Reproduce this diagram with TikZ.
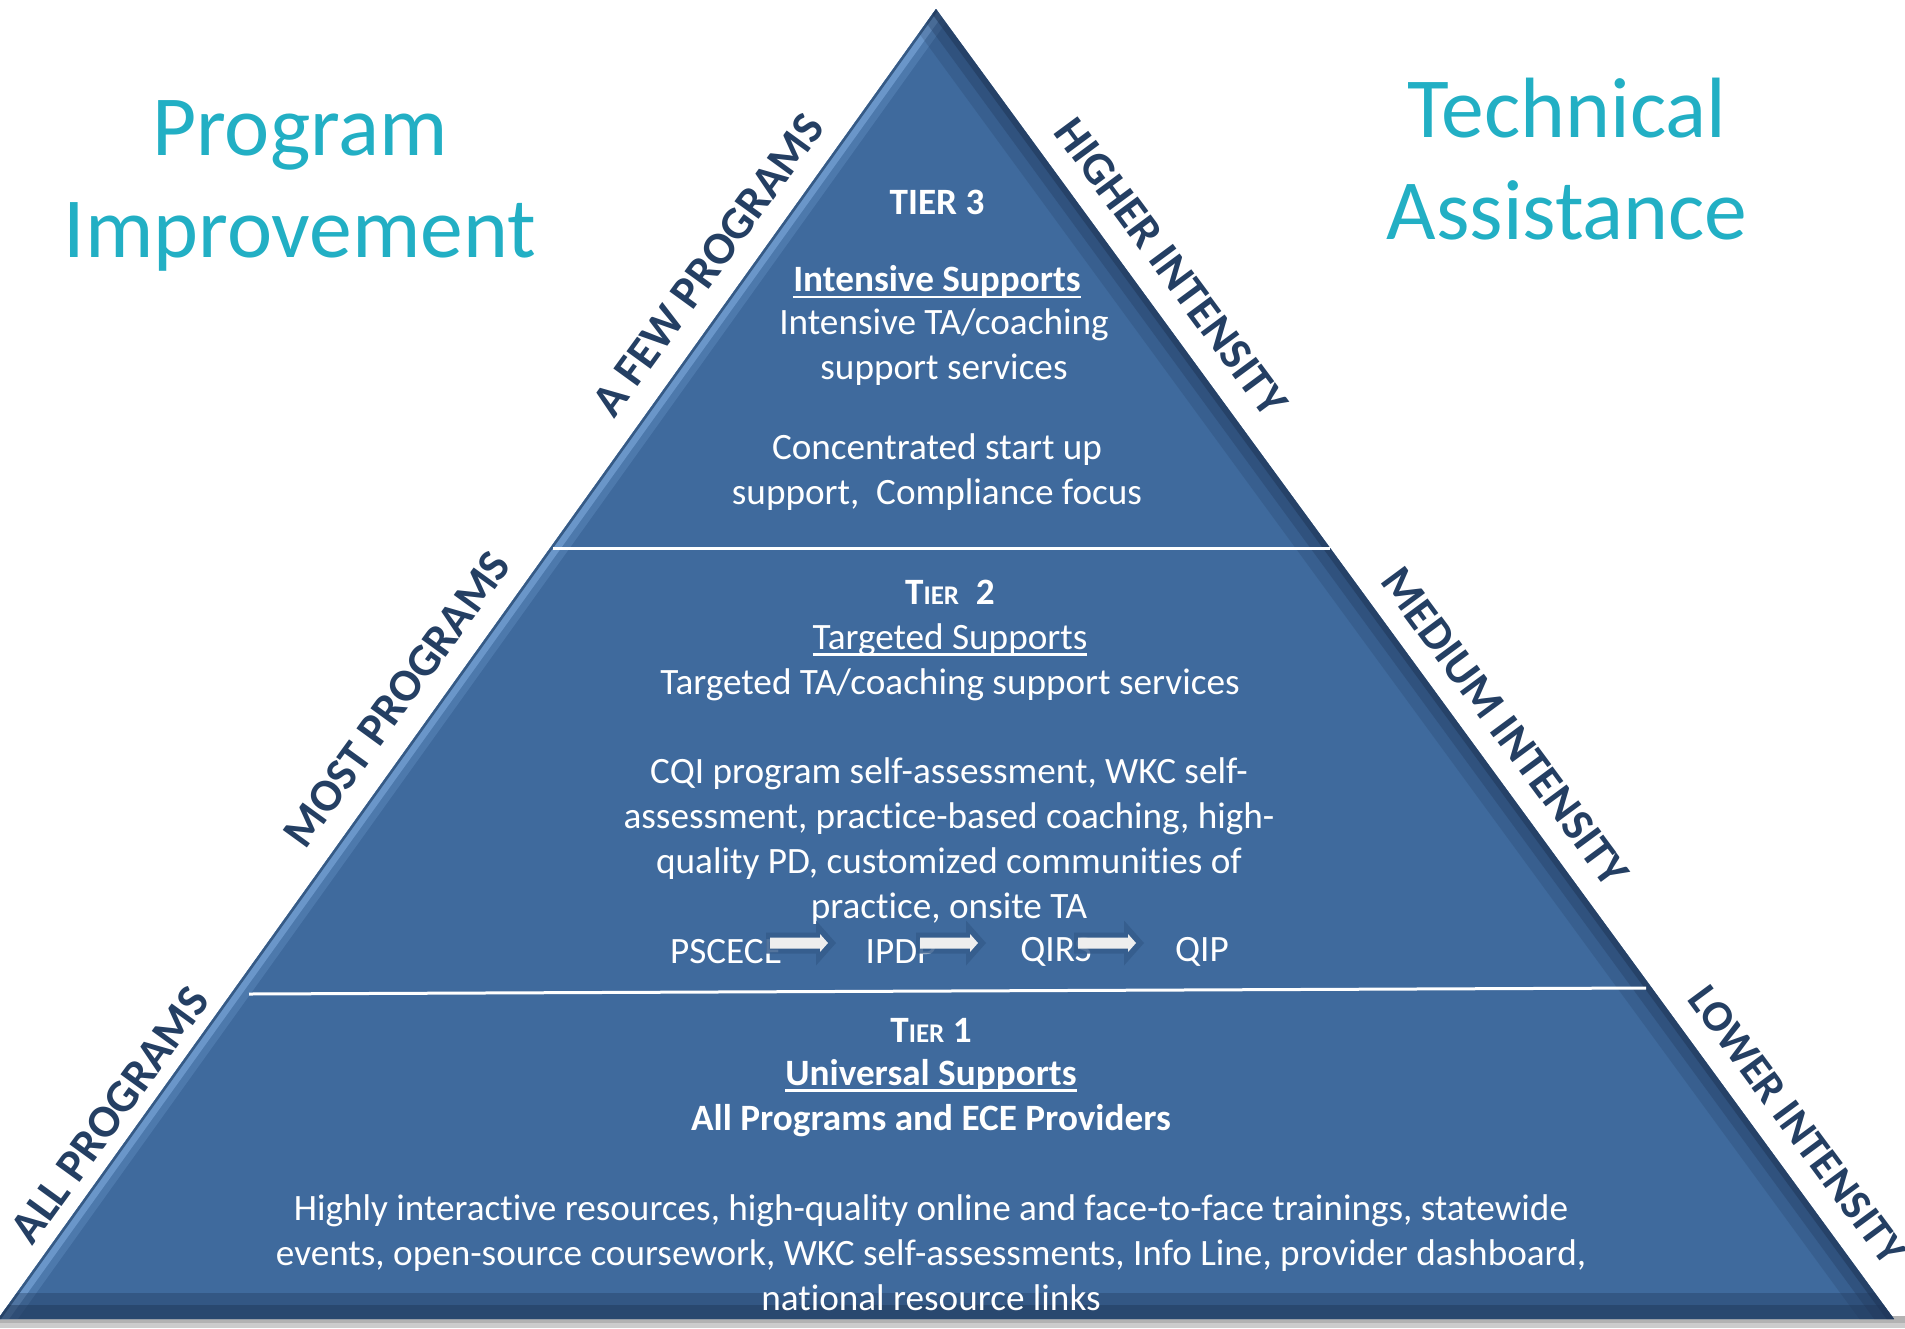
\documentclass[tikz,border=0pt]{standalone}
\usepackage{fontspec}
\setmainfont{Carlito}[Ligatures=NoCommon]
\definecolor{tealc}{HTML}{22AFC4}
\definecolor{navyc}{HTML}{243F63}
\definecolor{pyr}{HTML}{3F6A9D}
\definecolor{lightc}{HTML}{7AA6DA}
\definecolor{darkc}{HTML}{1F3657}
\definecolor{arrowsh}{HTML}{355C8C}
\definecolor{arroww}{HTML}{EEEEEE}
\newcommand{\myul}[1]{\setbox0\hbox{#1}\leavevmode\rlap{\rule[-3.2pt]{\wd0}{1.3pt}}\box0}
\newcommand{\tiersc}[1]{T{\fontsize{13.5}{22.5}\selectfont IER}}
\tikzset{
  bigtitle/.style={text=tealc, font=\fontsize{42.8}{51}\selectfont, align=center, inner sep=0},
  body/.style={text=white, font=\fontsize{18.6}{22.5}\selectfont, align=center, inner sep=0},
  bodyb/.style={text=white, font=\bfseries\fontsize{18.6}{22.5}\selectfont, align=center, inner sep=0},
  side/.style={text=navyc, font=\bfseries\fontsize{23}{27}\selectfont, inner sep=0},
  divider/.style={white, line width=1.5pt},
  pics/flowarrow/.style={code={
    \fill[arrowsh, opacity=0.85] (-4,-10.5) -- (46,-10.5) -- (46,-22.5) -- (66,0) -- (46,22.5) -- (46,10.5) -- (-4,10.5) -- cycle;
    \fill[arroww] (0,-5.5) -- (50,-5.5) -- (50,-9) -- (58,0) -- (50,9) -- (50,5.5) -- (0,5.5) -- cycle;
  }}
}
\begin{document}
\begin{tikzpicture}[x=0.5pt,y=-0.5pt]
\useasboundingbox (0,0) rectangle (1905,1328);
\coordinate (A) at (936,9);
\coordinate (L) at (-2,1319);
\coordinate (R) at (1894,1319);
% ground shadow
\fill[black!30] (0,1316) rectangle (1905,1328);
\fill[black!20] (0,1323) rectangle (1905,1328);
% pyramid
\fill[pyr] (A) -- (L) -- (R) -- cycle;
\begin{scope}
  \clip (A) -- (L) -- (R) -- cycle;
  \draw[line width=16pt, lightc, opacity=0.25] (A) -- (L);
  \draw[line width=9pt, lightc, opacity=0.65] (A) -- (L);
  \draw[line width=2.5pt, pyr!85!black] (A) -- (L);
  \draw[line width=28pt, darkc, opacity=0.2] (A) -- (R);
  \draw[line width=16pt, darkc, opacity=0.3] (A) -- (R);
  \draw[line width=6pt, darkc, opacity=0.55] (A) -- (R);
  \draw[line width=26pt, darkc, opacity=0.35] (L) -- (R);
  \draw[line width=14pt, darkc, opacity=0.45] (L) -- (R);
\end{scope}
% dividers
\coordinate (d1l) at (553,548);
\coordinate (d1r) at (1330,548);
\coordinate (d2l) at (249,994);
\coordinate (d2r) at (1646,988);
\draw[divider] (d1l) -- (d1r);
\draw[divider] (d2l) -- (d2r);
% titles
\node[bigtitle] (pi) at (300,186) {Program\\Improvement};
\node[bigtitle] (ta) at (1567,159) {Technical\\Assistance};
% tier 3
\node[bodyb] (t3h) at (937,202) {TIER 3};
\node[bodyb] (t3u) at (937,282) {\myul{Intensive Supports}};
\node[body] (t3a) at (944,347) {Intensive TA/coaching\\support services};
\node[body] (t3b) at (937,472) {Concentrated start up\\support,\ \ Compliance focus};
% tier 2
\node[bodyb] (t2h) at (950,592) {\tiersc{}\ \ 2};
\node[body] (t2a) at (950,662) {\myul{Targeted Supports}\\Targeted TA/coaching support services};
\node[body] (t2b) at (949,841) {CQI program self-assessment, WKC self-\\assessment, practice-based coaching, high-\\quality PD, customized communities of\\practice, onsite TA};
\node[body] (p1) at (726,952) {PSCECE};
\node[body] (p2) at (901,952) {IPDP};
\node[body] (p3) at (1056,952) {QIRS};
\node[body] (p4) at (1202,952) {QIP};
\pic at (770,943) {flowarrow};
\pic at (920,943) {flowarrow};
\pic at (1078,943) {flowarrow};
% tier 1
\node[bodyb] (t1h) at (931,1030) {\tiersc{}\ 1};
\node[bodyb] (t1a) at (931,1098) {\myul{Universal Supports}\\All Programs and ECE Providers};
\node[body] (t1b) at (931,1253) {Highly interactive resources, high-quality online and face-to-face trainings, statewide\\events, open-source coursework, WKC self-assessments, Info Line, provider dashboard,\\national resource links};
% side labels
\node[side, rotate=54] (s1) at (708,265) {A FEW PROGRAMS};
\node[side, rotate=54] (s2) at (397,699) {MOST PROGRAMS};
\node[side, rotate=54] (s3) at (110,1115) {ALL PROGRAMS};
\node[side, rotate=-53.5] (s4) at (1171,267) {HIGHER INTENSITY};
\node[side, rotate=-53.5] (s5) at (1505,727) {MEDIUM INTENSITY};
\node[side, rotate=-53.5, font=\bfseries\fontsize{22}{26}\selectfont] (s6) at (1797,1125) {LOWER INTENSITY};
\end{tikzpicture}
\end{document}
